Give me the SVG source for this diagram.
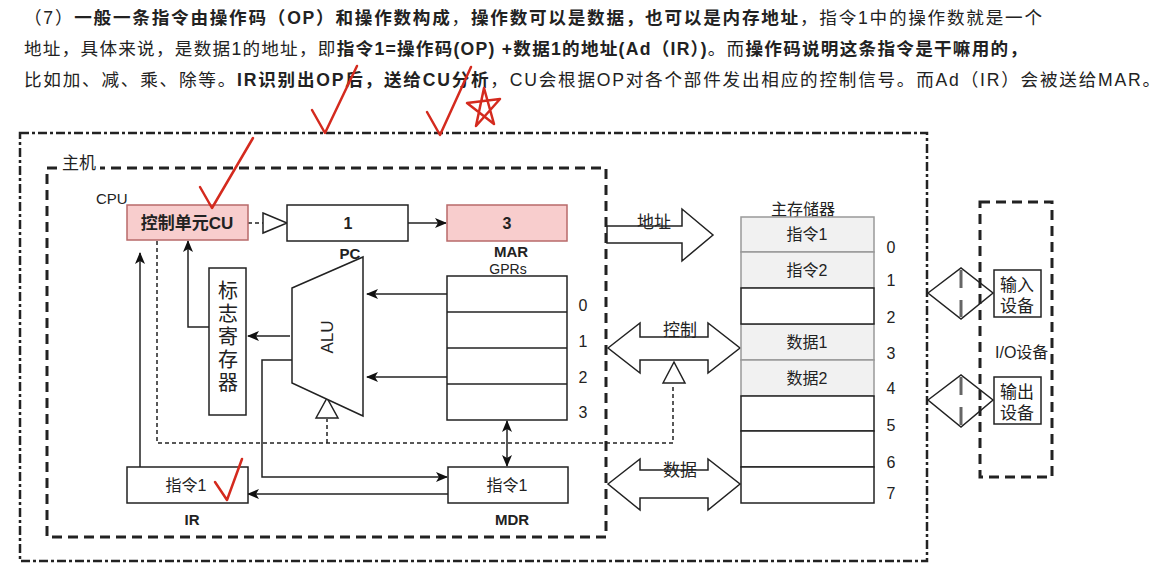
<svg xmlns="http://www.w3.org/2000/svg" width="1168" height="576" viewBox="0 0 1168 576">
<defs>
<style>
text{font-family:"Liberation Sans","Noto Sans CJK SC",sans-serif;fill:#222;}
.t{font-size:17.6px;}
.b{font-weight:bold;}
.box{fill:#fff;stroke:#222;stroke-width:1.5;}
.pink{fill:#f8cdcd;stroke:#b86a6a;stroke-width:1.5;}
.ln{fill:none;stroke:#222;stroke-width:1.5;}
.dl{fill:none;stroke:#222;stroke-width:1.5;stroke-dasharray:4 3;}
.outer{fill:none;stroke:#222;stroke-width:2.5;stroke-dasharray:9 3 3 3;}
.inner{fill:none;stroke:#222;stroke-width:3;stroke-dasharray:10 6;}
.lab{font-size:15px;}
.mem{font-size:16px;}
.num{font-size:16px;}
.red{fill:none;stroke:#d42a1e;stroke-width:2.5;stroke-linecap:round;stroke-linejoin:round;}
.gray{fill:#f1f1f1;stroke:#999;stroke-width:1.5;}
.bar{stroke:#666;stroke-width:3;}
</style>
<marker id="ah" viewBox="0 0 12 10" refX="11" refY="5" markerWidth="12" markerHeight="10" markerUnits="userSpaceOnUse" orient="auto-start-reverse">
<path d="M0,0 L12,5 L0,10 L3,5 z" fill="#111"/>
</marker>
</defs>

<!-- top description -->
<g id="caption">
<text class="t" x="24" y="24" textLength="1018" lengthAdjust="spacing">（7）<tspan class="b">一般一条指令由操作码（OP）和操作数构成</tspan>，<tspan class="b">操作数可以是数据，也可以是内存地址</tspan>，指令1中的操作数就是一个</text>
<text class="t" x="24" y="55" textLength="1003" lengthAdjust="spacing">地址，具体来说，是数据1的地址，即<tspan class="b">指令1=操作码(OP) +数据1的地址(Ad（IR）)</tspan>。而<tspan class="b">操作码说明这条指令是干嘛用的，</tspan></text>
<text class="t" x="24" y="86" textLength="1136" lengthAdjust="spacing">比如加、减、乘、除等。<tspan class="b">IR识别出OP后，送给CU分析</tspan>，CU会根据OP对各个部件发出相应的控制信号。而Ad（IR）会被送给MAR。</text>
</g>

<!-- boundaries -->
<g id="computer">
<rect class="outer" x="20" y="133" width="907" height="428"/>
</g>
<g id="host">
<rect class="inner" x="47" y="168" width="559" height="369"/>
<rect x="58" y="154" width="42" height="22" fill="#fff"/>
<text x="62" y="169" font-size="17">主机</text>
<text x="96" y="204" class="lab">CPU</text>
</g>

<!-- connectors -->
<g id="connectors">
<line class="dl" x1="248" y1="223" x2="263" y2="223"/>
<path class="dl" d="M157,241 V443 H673 V384"/>
<path class="dl" d="M327,443 V419"/>
<line class="ln" x1="408" y1="223" x2="446" y2="223" marker-end="url(#ah)"/>
<line class="ln" x1="447" y1="294" x2="367" y2="294" marker-end="url(#ah)"/>
<line class="ln" x1="447" y1="377" x2="367" y2="377" marker-end="url(#ah)"/>
<line class="ln" x1="290" y1="336" x2="248" y2="336" marker-end="url(#ah)"/>
<polyline class="ln" points="209,327 188,327 188,241" marker-end="url(#ah)"/>
<line class="ln" x1="140" y1="467" x2="140" y2="253" marker-end="url(#ah)"/>
<polyline class="ln" points="292,360 262,360 262,477 447,477" marker-end="url(#ah)"/>
<line class="ln" x1="448" y1="494" x2="248" y2="494" marker-end="url(#ah)"/>
<line class="ln" x1="507" y1="421" x2="507" y2="466" marker-start="url(#ah)" marker-end="url(#ah)"/>
<polygon class="box" points="263,213 287,223 263,233"/>
<polygon class="box" points="316,418 327,398 338,418"/>
<polygon class="box" points="663,383 674,362 685,383"/>
<!-- buses -->
<polygon class="box" points="607,226 682,226 682,209 713,235 682,261 682,243 607,243"/>
<text x="654" y="228" font-size="17" text-anchor="middle">地址</text>
<polygon class="box" points="608,348 640,323 640,337 708,337 708,323 740,348 708,373 708,360 640,360 640,373"/>
<text x="680" y="336" font-size="17" text-anchor="middle">控制</text>
<polygon class="box" points="608,484 640,459 640,470 708,470 708,459 740,484 708,510 708,498 640,498 640,510"/>
<text x="680" y="476" font-size="17" text-anchor="middle">数据</text>
<polygon class="box" points="928,293 961,268 993,293 961,319"/>
<line class="bar" x1="961" y1="270" x2="961" y2="288"/>
<line class="bar" x1="961" y1="300" x2="961" y2="317"/>
<polygon class="box" points="928,400 961,375 993,400 961,427"/>
<line class="bar" x1="961" y1="377" x2="961" y2="395"/>
<line class="bar" x1="961" y1="407" x2="961" y2="425"/>
</g>

<!-- nodes -->
<g id="cu">
<rect class="pink" x="127" y="205" width="121" height="35"/>
<text x="187" y="229" font-size="17" class="b" text-anchor="middle">控制单元CU</text>
</g>
<g id="pc">
<rect class="box" x="287" y="205" width="121" height="36"/>
<text x="348" y="229" font-size="16" class="b" text-anchor="middle">1</text>
<text x="350" y="259" class="lab b" text-anchor="middle">PC</text>
</g>
<g id="mar">
<rect class="pink" x="447" y="205" width="120" height="36"/>
<text x="507" y="229" font-size="16" class="b" text-anchor="middle">3</text>
<text x="511" y="257" class="lab b" text-anchor="middle">MAR</text>
</g>
<g id="gprs">
<text x="508" y="274" font-size="14" text-anchor="middle">GPRs</text>
<rect class="box" x="447" y="276" width="120" height="144"/>
<line class="ln" x1="447" y1="312" x2="567" y2="312"/>
<line class="ln" x1="447" y1="348" x2="567" y2="348"/>
<line class="ln" x1="447" y1="384" x2="567" y2="384"/>
<text x="583" y="311" class="num" text-anchor="middle">0</text>
<text x="583" y="347" class="num" text-anchor="middle">1</text>
<text x="583" y="383" class="num" text-anchor="middle">2</text>
<text x="583" y="418" class="num" text-anchor="middle">3</text>
</g>
<g id="alu">
<polygon class="box" points="292,288 363,257 363,416 292,383"/>
<text x="0" y="0" font-size="17" text-anchor="middle" transform="translate(333,337) rotate(-90)">ALU</text>
</g>
<g id="flags">
<rect class="box" x="209" y="268" width="37" height="147"/>
<text x="228" y="298" font-size="20" text-anchor="middle">标</text>
<text x="228" y="321" font-size="20" text-anchor="middle">志</text>
<text x="228" y="344" font-size="20" text-anchor="middle">寄</text>
<text x="228" y="367" font-size="20" text-anchor="middle">存</text>
<text x="228" y="390" font-size="20" text-anchor="middle">器</text>
</g>
<g id="ir">
<rect class="box" x="127" y="467" width="121" height="36"/>
<text x="186" y="491" class="mem" text-anchor="middle">指令1</text>
<text x="192" y="525" class="lab b" text-anchor="middle">IR</text>
</g>
<g id="mdr">
<rect class="box" x="448" y="467" width="120" height="36"/>
<text x="507" y="491" class="mem" text-anchor="middle">指令1</text>
<text x="512" y="525" class="lab b" text-anchor="middle">MDR</text>
</g>
<g id="memory">
<text x="803" y="215" class="mem" text-anchor="middle">主存储器</text>
<rect class="gray" x="741" y="217" width="133" height="35"/>
<rect class="gray" x="741" y="252" width="133" height="36"/>
<rect class="gray" x="741" y="324" width="133" height="36"/>
<rect class="gray" x="741" y="360" width="133" height="36"/>
<rect class="box" x="741" y="288" width="133" height="36"/>
<rect class="box" x="741" y="396" width="133" height="35"/>
<rect class="box" x="741" y="431" width="133" height="36"/>
<rect class="box" x="741" y="467" width="133" height="36"/>
<text x="807" y="240" class="mem" text-anchor="middle">指令1</text>
<text x="807" y="276" class="mem" text-anchor="middle">指令2</text>
<text x="807" y="348" class="mem" text-anchor="middle">数据1</text>
<text x="807" y="384" class="mem" text-anchor="middle">数据2</text>
<text x="891" y="253" class="num" text-anchor="middle">0</text>
<text x="891" y="286" class="num" text-anchor="middle">1</text>
<text x="891" y="323" class="num" text-anchor="middle">2</text>
<text x="891" y="359" class="num" text-anchor="middle">3</text>
<text x="891" y="394" class="num" text-anchor="middle">4</text>
<text x="891" y="431" class="num" text-anchor="middle">5</text>
<text x="891" y="468" class="num" text-anchor="middle">6</text>
<text x="891" y="499" class="num" text-anchor="middle">7</text>
</g>
<g id="io">
<rect class="inner" x="980" y="202" width="72" height="275"/>
<text x="995" y="358" font-size="16">I/O设备</text>
</g>
<g id="input">
<rect class="box" x="994" y="270" width="47" height="47"/>
<text x="1017" y="291" font-size="17" text-anchor="middle">输入</text>
<text x="1017" y="312" font-size="17" text-anchor="middle">设备</text>
</g>
<g id="output">
<rect class="box" x="994" y="377" width="47" height="47"/>
<text x="1017" y="398" font-size="17" text-anchor="middle">输出</text>
<text x="1017" y="419" font-size="17" text-anchor="middle">设备</text>
</g>

<!-- handwritten marks -->
<g id="annotations">
<path class="red" d="M200,187 L212,208 L253,138"/>
<path class="red" d="M312,110 L325,133 L357,66"/>
<path class="red" d="M427,112 L440,135 L471,67"/>
<path class="red" d="M467,103 L500,99 L476,126 L484,88 L494,124 Z"/>
<path class="red" d="M215,482 L227,500 L242,459"/>
</g>
</svg>
